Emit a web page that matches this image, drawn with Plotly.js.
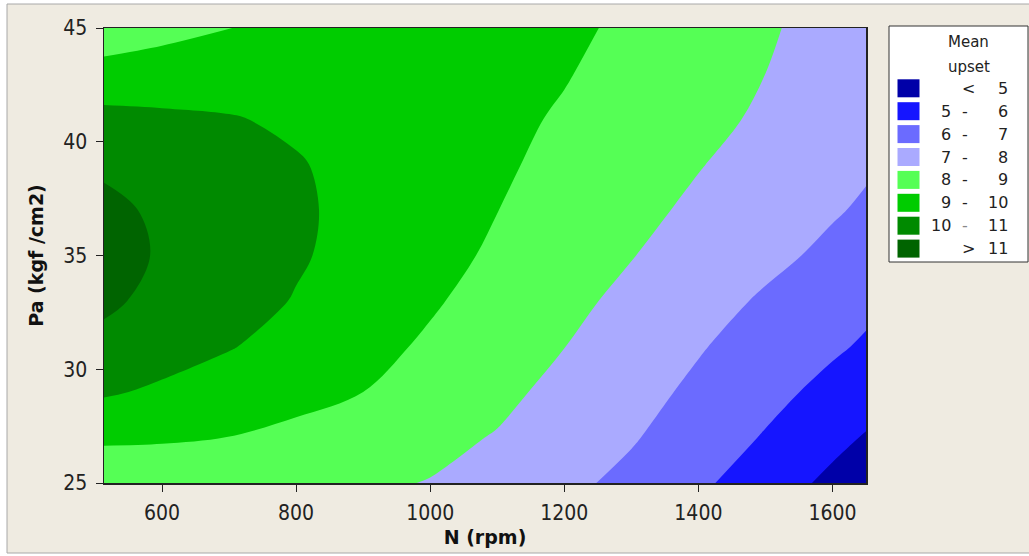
<!DOCTYPE html>
<html><head><meta charset="utf-8">
<script src="https://cdn.plot.ly/plotly-3.0.1.min.js"></script>
<style>html,body{margin:0;padding:0;background:#fff}#chart{width:1029px;height:556px}</style>
</head><body><div id="chart"></div>
<script>
// N (rpm) grid columns
const N = [513.5, 600, 700, 800, 900, 1000, 1100, 1200, 1300, 1400, 1500, 1600, 1650];
// Pa (kgf/cm2) grid rows
const Pa = [25, 27, 29, 31, 33, 35, 37, 39, 41, 43, 45];
// Mean upset (rows follow Pa, columns follow N)
const row25 = [8.06, 8.20, 8.23, 8.20, 8.12, 7.97, 7.60, 7.22, 6.76, 6.17, 5.50, 4.78, 4.40];
const row27 = [9.21, 9.13, 8.99, 8.76, 8.47, 8.22, 7.95, 7.51, 7.08, 6.52, 5.93, 5.26, 4.93];
const row29 = [10.11, 9.85, 9.57, 9.30, 9.00, 8.60, 8.20, 7.77, 7.31, 6.82, 6.28, 5.73, 5.45];
const row31 = [10.76, 10.40, 10.05, 9.67, 9.28, 8.87, 8.44, 8.01, 7.53, 7.07, 6.60, 6.13, 5.89];
const row33 = [11.16, 10.76, 10.36, 9.95, 9.52, 9.10, 8.66, 8.23, 7.78, 7.34, 6.89, 6.44, 6.21];
const row35 = [11.31, 10.92, 10.52, 10.10, 9.69, 9.28, 8.87, 8.45, 8.03, 7.63, 7.22, 6.81, 6.61];
const row37 = [11.21, 10.85, 10.50, 10.13, 9.75, 9.38, 9.01, 8.62, 8.23, 7.84, 7.46, 7.08, 6.89];
const row39 = [10.86, 10.59, 10.35, 10.06, 9.75, 9.44, 9.12, 8.78, 8.41, 8.04, 7.67, 7.29, 7.10];
const row41 = [10.26, 10.15, 10.05, 9.87, 9.68, 9.45, 9.20, 8.91, 8.56, 8.22, 7.88, 7.52, 7.35];
const row43 = [9.41, 9.52, 9.59, 9.56, 9.55, 9.45, 9.30, 9.05, 8.70, 8.35, 8.00, 7.65, 7.48];
const row45 = [8.31, 8.67, 8.99, 9.20, 9.32, 9.36, 9.30, 9.17, 8.84, 8.46, 8.09, 7.72, 7.54];
const upset = [row25, row27, row29, row31, row33, row35, row37, row39, row41, row43, row45];

const levelStart = 5, levelEnd = 11, levelStep = 1;
const bandColors = ['#0000A8', '#1515FF', '#6B6BFF', '#AAAAFF', '#55FF55', '#00CC00', '#008A00', '#006400'];
const legendLow  = ['', '5', '6', '7', '8', '9', '10', ''];
const legendSep  = ['<', '-', '-', '-', '-', '-', '-', '>'];
const legendHigh = ['5', '6', '7', '8', '9', '10', '11', '11'];
const legendTitle = ['Mean', 'upset'];
const xTicks = [600, 800, 1000, 1200, 1400, 1600];
const yTicks = [25, 30, 35, 40, 45];

const W = 1029, H = 556, ML = 104, MR = 163, MT = 28, MB = 73;
const pw = W - ML - MR, ph = H - MT - MB;
const fx = p => (p - ML) / pw;
const fy = p => (H - MB - p) / ph;

const tickFont = {family: 'DejaVu Sans Condensed, DejaVu Sans, sans-serif', size: 21, color: '#222'};
const titleFont = {family: 'DejaVu Sans, sans-serif', size: 19, color: '#111', weight: 'bold'};
const legFont = {family: 'DejaVu Sans, sans-serif', size: 16, color: '#222'};

const nb = bandColors.length;
const colorscale = bandColors.map((c, i) => [i / (nb - 1), c]);

const trace = {
  type: 'contour', x: N, y: Pa, z: upset,
  autocontour: false,
  contours: {start: levelStart, end: levelEnd, size: levelStep, coloring: 'fill', showlines: false},
  line: {width: 0, smoothing: 1},
  colorscale: colorscale, showscale: false, hoverinfo: 'skip'
};

const shapes = [
  {type: 'rect', xref: 'paper', yref: 'paper', x0: fx(7), x1: fx(1032), y0: fy(553), y1: fy(4),
   fillcolor: '#EFEBE1', line: {color: '#A8A8A8', width: 1}, layer: 'below'},
  {type: 'rect', xref: 'paper', yref: 'paper', x0: fx(889), x1: fx(1028), y0: fy(262), y1: fy(26),
   fillcolor: '#FFFFFF', line: {color: '#333', width: 1}}
];
const annotations = [];
legendTitle.forEach((t, i) => annotations.push({
  xref: 'paper', yref: 'paper', x: fx(969), y: fy(42 + i * 24.5), text: t, showarrow: false,
  xanchor: 'center', yanchor: 'middle', font: {family: legFont.family, size: 15, color: '#222'}
}));
const rowY0 = 88.3, rowDy = 22.9;
bandColors.forEach((c, i) => {
  const cy = rowY0 + i * rowDy;
  shapes.push({type: 'rect', xref: 'paper', yref: 'paper', x0: fx(897.5), x1: fx(919.5),
    y0: fy(cy + 9), y1: fy(cy - 9), fillcolor: c, line: {width: 0}});
  if (legendLow[i]) annotations.push({xref: 'paper', yref: 'paper', x: fx(953), y: fy(cy),
    text: legendLow[i], showarrow: false, xanchor: 'right', yanchor: 'middle', font: legFont});
  annotations.push({xref: 'paper', yref: 'paper', x: fx(legendLow[i] ? 965 : 968), y: fy(cy),
    text: legendSep[i], showarrow: false, xanchor: 'center', yanchor: 'middle',
    font: {family: legFont.family, size: 16, color: (i === 6 ? '#888' : '#222')}});
  annotations.push({xref: 'paper', yref: 'paper', x: fx(1010), y: fy(cy),
    text: legendHigh[i], showarrow: false, xanchor: 'right', yanchor: 'middle', font: legFont});
});

const layout = {
  width: W, height: H,
  margin: {l: ML, r: MR, t: MT, b: MB, pad: 0},
  paper_bgcolor: '#FFFFFF', plot_bgcolor: '#EFEBE1',
  showlegend: false,
  xaxis: {range: [N[0], N[N.length - 1]], tickvals: xTicks, ticks: 'outside', ticklen: 7, tickwidth: 1,
    tickcolor: '#222', showline: true, mirror: true, linecolor: '#222', linewidth: 1.5,
    showgrid: false, zeroline: false, tickfont: tickFont, ticklabelstandoff: 3,
    title: {text: 'N (rpm)', font: titleFont, standoff: 7}},
  yaxis: {range: [Pa[0], Pa[Pa.length - 1]], tickvals: yTicks, ticks: 'outside', ticklen: 7, tickwidth: 1,
    tickcolor: '#222', showline: true, mirror: true, linecolor: '#222', linewidth: 1.5,
    showgrid: false, zeroline: false, tickfont: tickFont, ticklabelstandoff: 4,
    title: {text: 'Pa (kgf /cm2)', font: titleFont, standoff: 14}},
  shapes: shapes, annotations: annotations
};

Plotly.newPlot('chart', [trace], layout, {staticPlot: true, displayModeBar: false});
</script></body></html>
